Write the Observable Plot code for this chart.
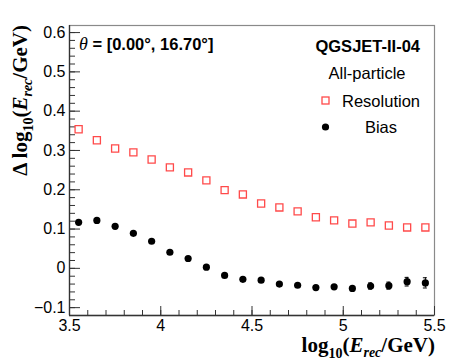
<!DOCTYPE html>
<html>
<head>
<meta charset="utf-8">
<script src="https://cdn.jsdelivr.net/npm/d3@7"></script>
<script src="https://cdn.jsdelivr.net/npm/@observablehq/plot@0.6"></script>
<style>
  html, body { margin: 0; padding: 0; background: #fff; }
</style>
</head>
<body>
<div id="chart"></div>
<script>
// ---- data ----
const energy = [3.55, 3.65, 3.75, 3.85, 3.95, 4.05, 4.15, 4.25, 4.35, 4.45,
                4.55, 4.65, 4.75, 4.85, 4.95, 5.05, 5.15, 5.25, 5.35, 5.45];
const resolution = [0.354, 0.326, 0.305, 0.295, 0.277, 0.257, 0.244, 0.224, 0.199, 0.188,
                    0.165, 0.155, 0.145, 0.130, 0.122, 0.114, 0.117, 0.109, 0.104, 0.104];
const bias = [0.117, 0.122, 0.107, 0.089, 0.069, 0.041, 0.025, 0.003, -0.018, -0.028,
              -0.030, -0.040, -0.043, -0.049, -0.047, -0.051, -0.045, -0.044, -0.034, -0.037];
const biasErr = [0.003, 0.003, 0.003, 0.003, 0.003, 0.003, 0.003, 0.003, 0.003, 0.003,
                 0.003, 0.004, 0.004, 0.004, 0.005, 0.005, 0.008, 0.009, 0.011, 0.013];
const xMajorTicks = [3.5, 4, 4.5, 5, 5.5];
const yMajorTicks = [-0.1, 0, 0.1, 0.2, 0.3, 0.4, 0.5, 0.6];
const xDomain = [3.5, 5.5];
const yDomain = [-0.12, 0.618];
const thetaText = "[0.00°, 16.70°]";
const modelText = "QGSJET-II-04";
const particleText = "All-particle";
const seriesNames = ["Resolution", "Bias"];

// ---- layout ----
const W = 457, H = 363, mL = 69, mR = 23, mT = 25, mB = 48;
const pw = W - mL - mR, ph = H - mT - mB;

const rows = energy.map((e, i) => ({e, res: resolution[i], bias: bias[i], err: biasErr[i]}));
const xMinor = d3.range(35, 56).map(d => d / 10);
const yMinor = d3.range(-12, 62, 2).map(d => d / 100).filter(d => d >= yDomain[0] && d <= yDomain[1]);
const fmt = d => d3.format("~g")(d);
const axisColor = "#333";

const svg = Plot.plot({
  width: W, height: H,
  marginLeft: mL, marginRight: mR, marginTop: mT, marginBottom: mB,
  style: {fontFamily: "Liberation Sans", fontSize: "16px", background: "#fff", color: "#000"},
  x: {domain: xDomain, label: null},
  y: {domain: yDomain, label: null},
  marks: [
    Plot.frame({stroke: "#8a8a8a", strokeWidth: 1.2}),
    Plot.ruleX([xDomain[0]], {stroke: axisColor, strokeWidth: 1.3}),
    Plot.ruleY([yDomain[0]], {stroke: axisColor, strokeWidth: 1.3}),
    Plot.tickY(yMinor, {y: d => d, insetRight: pw - 6, stroke: axisColor, strokeWidth: 1}),
    Plot.tickY(yMajorTicks, {y: d => d, insetRight: pw - 11, stroke: axisColor, strokeWidth: 1}),
    Plot.tickX(xMinor, {x: d => d, insetTop: ph - 5, stroke: axisColor, strokeWidth: 1}),
    Plot.tickX(xMajorTicks, {x: d => d, insetTop: ph - 9, stroke: axisColor, strokeWidth: 1}),
    Plot.axisY(yMajorTicks, {tickSize: 0, tickPadding: 4, fontSize: 16, tickFormat: fmt, label: null}),
    Plot.axisX(xMajorTicks, {tickSize: 0, tickPadding: 4, fontSize: 16, tickFormat: fmt, label: null}),
    Plot.ruleX(rows, {x: "e", y1: d => d.bias - d.err, y2: d => d.bias + d.err, stroke: "#000", strokeWidth: 1}),
    Plot.ruleY(rows.filter(d => d.err > 0.006), {y: d => d.bias + d.err, x1: d => d.e - 0.011, x2: d => d.e + 0.011, stroke: "#000"}),
    Plot.ruleY(rows.filter(d => d.err > 0.006), {y: d => d.bias - d.err, x1: d => d.e - 0.011, x2: d => d.e + 0.011, stroke: "#000"}),
    Plot.dot(rows, {x: "e", y: "res", symbol: "square", r: 4, stroke: "#ff4a4a", strokeWidth: 1.3, fill: "none"}),
    Plot.dot(rows, {x: "e", y: "bias", r: 3.6, fill: "#000", stroke: "none"})
  ]
});

const s = d3.select(svg);
const serif = "Liberation Serif";

// x title
const xt = s.append("text").attr("x", 435).attr("y", 352).attr("text-anchor", "end")
  .attr("font-family", serif).attr("font-weight", "bold").attr("font-size", 21).attr("fill", "#000");
xt.append("tspan").text("log");
xt.append("tspan").attr("dy", 6).attr("font-size", 14).text("10");
xt.append("tspan").attr("dy", -6).text("(");
xt.append("tspan").attr("font-style", "italic").text("E");
xt.append("tspan").attr("dy", 5).attr("font-size", 14).attr("font-style", "italic").text("rec");
xt.append("tspan").attr("dy", -5).text("/GeV)");

// y title
const yt = s.append("text").attr("transform", "translate(27,25) rotate(-90)").attr("text-anchor", "end")
  .attr("font-family", serif).attr("font-weight", "bold").attr("font-size", 21).attr("fill", "#000");
yt.append("tspan").text("Δ log");
yt.append("tspan").attr("dy", 6).attr("font-size", 14).text("10");
yt.append("tspan").attr("dy", -6).text("(");
yt.append("tspan").attr("font-style", "italic").text("E");
yt.append("tspan").attr("dy", 5).attr("font-size", 14).attr("font-style", "italic").text("rec");
yt.append("tspan").attr("dy", -5).text("/GeV)");

// annotations
const sans = "Liberation Sans";
const th = s.append("text").attr("x", 79).attr("y", 50).attr("text-anchor", "start").attr("font-family", sans)
  .attr("font-size", 16.5).attr("font-weight", "bold").attr("fill", "#000");
th.append("tspan").attr("font-family", serif).attr("font-style", "italic").attr("font-weight", "normal").attr("font-size", 18).text("θ");
th.append("tspan").text(" = " + thetaText);

s.append("text").attr("x", 420).attr("y", 52).attr("text-anchor", "end").attr("font-family", sans)
  .attr("font-size", 16.5).attr("font-weight", "bold").attr("fill", "#000").text(modelText);
s.append("text").attr("x", 367).attr("y", 79).attr("text-anchor", "middle").attr("font-family", sans)
  .attr("font-size", 16.5).attr("fill", "#000").text(particleText);

// legend
s.append("rect").attr("x", 322).attr("y", 97).attr("width", 7).attr("height", 7)
  .attr("fill", "none").attr("stroke", "#ff4a4a").attr("stroke-width", 1.3);
s.append("text").attr("x", 381).attr("y", 107).attr("text-anchor", "middle").attr("font-family", sans)
  .attr("font-size", 16.5).attr("fill", "#000").text(seriesNames[0]);
s.append("circle").attr("cx", 325.5).attr("cy", 127).attr("r", 3.6).attr("fill", "#000");
s.append("text").attr("x", 381).attr("y", 133).attr("text-anchor", "middle").attr("font-family", sans)
  .attr("font-size", 16.5).attr("fill", "#000").text(seriesNames[1]);

document.getElementById("chart").appendChild(svg);
</script>
</body>
</html>
